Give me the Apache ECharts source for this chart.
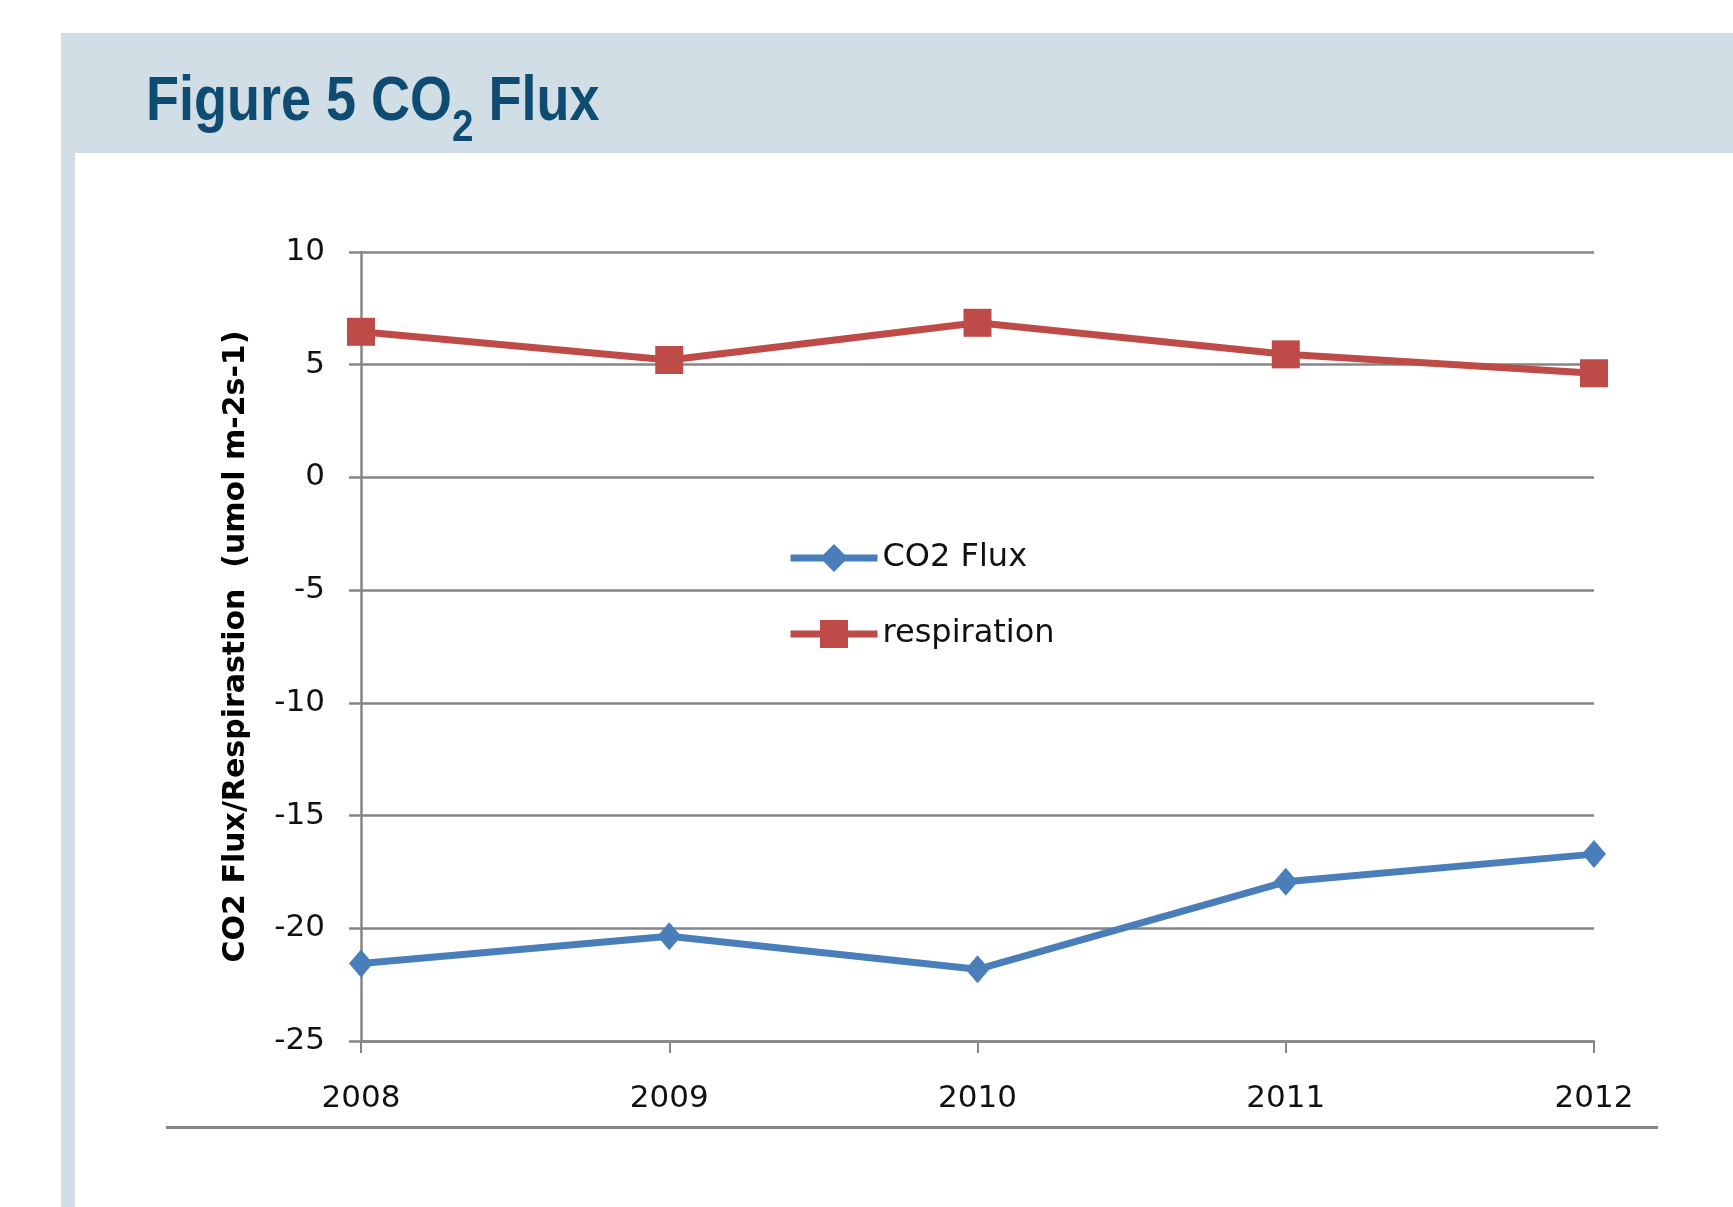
<!DOCTYPE html>
<html>
<head>
<meta charset="utf-8">
<title>Figure 5 CO2 Flux</title>
<script src="https://cdn.jsdelivr.net/npm/echarts@6/dist/echarts.min.js"></script>
<style>
    html, body { margin: 0; padding: 0; background: #fff; }
    #echarts-flux-chart { width: 1733px; height: 1207px; }
</style>
</head>
<body>
<div id="echarts-flux-chart"></div>
<script>
var years = ['2008', '2009', '2010', '2011', '2012'];
var co2Flux = [-21.56, -20.35, -21.82, -17.94, -16.71];
var respiration = [6.46, 5.21, 6.86, 5.46, 4.62];
var yTicks = { min: -25, max: 10, step: 5 };

var gridGray = '#868686';
var bandBlue = '#d1dee6';
var titleBlue = '#0f4c72';
var labelFont = '"DejaVu Sans", sans-serif';
var titleFont = '"Liberation Sans", Arial, sans-serif';

var fluxChart = echarts.init(document.getElementById('echarts-flux-chart'));
var option = {
    backgroundColor: '#fff',
    animation: false,
    graphic: [
        // header band + left strip
        { type: 'rect', z: -10, shape: { x: 61, y: 33, width: 1672, height: 120 }, style: { fill: bandBlue } },
        { type: 'rect', z: -10, shape: { x: 61, y: 153, width: 14, height: 1054 }, style: { fill: bandBlue } },
        // rule under the chart
        { type: 'rect', shape: { x: 166, y: 1126, width: 1492, height: 3 }, style: { fill: gridGray } },
        // heading, condensed by squeezing the bold face
        {
            type: 'text',
            x: 146,
            y: 71,
            scaleX: 0.857,
            style: {
                text: '{m|Figure 5 CO}{s|2}{m| Flux}',
                textVerticalAlign: 'top',
                rich: {
                    m: { fontFamily: titleFont, fontWeight: 'bold', fontSize: 63, lineHeight: 72, verticalAlign: 'top', fill: titleBlue },
                    s: { fontFamily: titleFont, fontWeight: 'bold', fontSize: 45, lineHeight: 72, verticalAlign: 'top', padding: [35, 0, 0, 0], fill: titleBlue }
                }
            }
        }
    ],
    legend: {
        orient: 'vertical',
        left: 782,
        top: 537,
        itemWidth: 87,
        itemHeight: 35,
        itemGap: 44,
        lineStyle: { width: 7 },
        textStyle: { fontFamily: labelFont, fontSize: 32, color: '#111' },
        data: ['CO2 Flux', 'respiration']
    },
    grid: {
        left: 361,
        right: 139,
        top: 252,
        bottom: 166
    },
    xAxis: {
        type: 'category',
        data: years,
        boundaryGap: false,
        axisLine: { onZero: false, lineStyle: { color: gridGray, width: 2.5 } },
        axisTick: { show: true, length: 12, alignWithLabel: true, lineStyle: { color: gridGray, width: 2 } },
        axisLabel: { margin: 42, fontFamily: labelFont, fontSize: 31, color: '#111' },
        splitLine: { show: false }
    },
    yAxis: {
        type: 'value',
        min: yTicks.min,
        max: yTicks.max,
        interval: yTicks.step,
        name: 'CO2 Flux/Respirastion  (umol m-2s-1)',
        nameLocation: 'middle',
        nameRotate: 90,
        nameGap: 110,
        nameTextStyle: { fontFamily: labelFont, fontWeight: 'bold', fontSize: 30, color: '#000' },
        axisLine: { show: true, lineStyle: { color: gridGray, width: 2.5 } },
        axisTick: { show: true, length: 12, lineStyle: { color: gridGray, width: 2.5 } },
        axisLabel: { margin: 36, fontFamily: labelFont, fontSize: 31, color: '#111' },
        splitLine: { show: true, lineStyle: { color: gridGray, width: 2.5 } }
    },
    series: [
        {
            name: 'CO2 Flux',
            type: 'line',
            data: co2Flux,
            symbol: 'diamond',
            symbolSize: [24, 28],
            lineStyle: { color: '#4a7ebb', width: 7 },
            itemStyle: { color: '#4a7ebb' }
        },
        {
            name: 'respiration',
            type: 'line',
            data: respiration,
            symbol: 'rect',
            symbolSize: 28,
            lineStyle: { color: '#be4b48', width: 7 },
            itemStyle: { color: '#be4b48' }
        }
    ]
};
fluxChart.setOption(option, true);

window.onresize = fluxChart.resize;
</script>
</body>
</html>
